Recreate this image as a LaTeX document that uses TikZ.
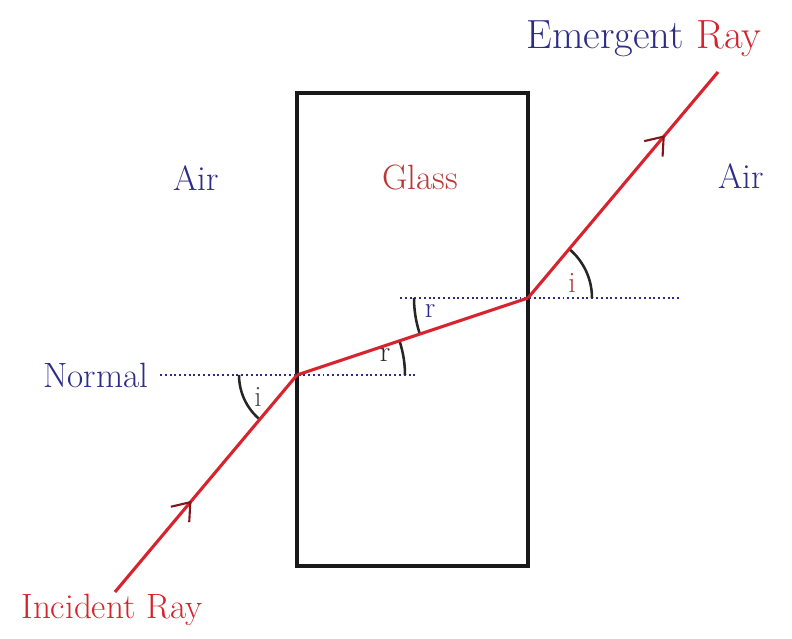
\documentclass[tikz,border=0pt]{standalone}
\usepackage{xcolor}
\usepackage{tikz}
\usetikzlibrary{arrows.meta, positioning, decorations.markings}
\definecolor{raycol}{RGB}{215, 35, 45}
\definecolor{airblue}{RGB}{45, 45, 135}
\definecolor{glassred}{RGB}{185, 55, 55}
\tikzstyle{ray} = [line width=2.2pt, color=raycol]
\tikzstyle{slab} = [draw=black!90, line width=2.4pt]
\tikzstyle{normalline} = [dotted, line width=1.4pt, color=airblue]
\tikzstyle{anglearc} = [line width=1.8pt, color=black!85]
\tikzstyle{txt} = [font=\fontsize{25}{30}\selectfont, inner sep=1pt]
\tikzstyle{angtxt} = [font=\fontsize{21}{25}\selectfont, inner sep=1pt]
\tikzset{midarrow/.style={postaction={decorate}, decoration={markings,
  mark=at position #1 with {\arrow[line width=1.5pt, color=black!40!raycol]{Straight Barb[length=4mm, width=6mm]}}}}}

\begin{document}
\begin{tikzpicture}
    \useasboundingbox (0,0) rectangle (19.8,15.975);
    \coordinate (A) at (7.425,6.6);
    \coordinate (B) at (13.2,8.525);
    \coordinate (S) at (2.875,1.175);
    \coordinate (E) at (17.95,14.175);
    \coordinate (N1) at (4.0,6.6);
    \coordinate (N2) at (10.375,6.6);
    \coordinate (M1) at (10.0,8.525);
    \coordinate (M2) at (17.0,8.525);

    \draw [normalline] (N1) -- (N2);
    \draw [normalline] (M1) -- (M2);
    \draw [slab] (7.425,1.825) rectangle (13.2,13.65);

    \draw [anglearc] ([shift={(180:1.45)}]A) arc (180:230:1.45);
    \draw [anglearc] ([shift={(0:2.7)}]A) arc (0:18.4:2.7);
    \draw [anglearc] ([shift={(180:2.85)}]B) arc (180:198.4:2.85);
    \draw [anglearc] ([shift={(0:1.6)}]B) arc (0:50:1.6);

    \draw [ray, midarrow=0.42] (S) -- (A);
    \draw [ray] (A) -- (B);
    \draw [ray, midarrow=0.72] (B) -- (E);

    \node (normal) [txt, text=airblue, left=0.25cm of N1] {Normal};
    \node (airL) [txt, text=airblue] at (4.9,11.525) {Air};
    \node (glass) [txt, text=glassred] at (10.5,11.525) {Glass};
    \node (airR) [txt, text=airblue] at (18.525,11.575) {Air};
    \node (emergent) [txt, font=\fontsize{29}{34}\selectfont] at (16.1,15.0) {\textcolor{airblue}{Emergent} \textcolor{raycol}{Ray}};
    \node (incident) [txt, text=raycol] at (2.8,0.725) {Incident Ray};

    \node (iA) [angtxt, text=black!70] at (6.45,6.05) {i};
    \node (rA) [angtxt, text=black!85] at (9.625,7.1) {r};
    \node (rB) [angtxt, text=airblue] at (10.75,8.2) {r};
    \node (iB) [angtxt, text=glassred] at (14.3,8.9) {i};
\end{tikzpicture}
\end{document}
